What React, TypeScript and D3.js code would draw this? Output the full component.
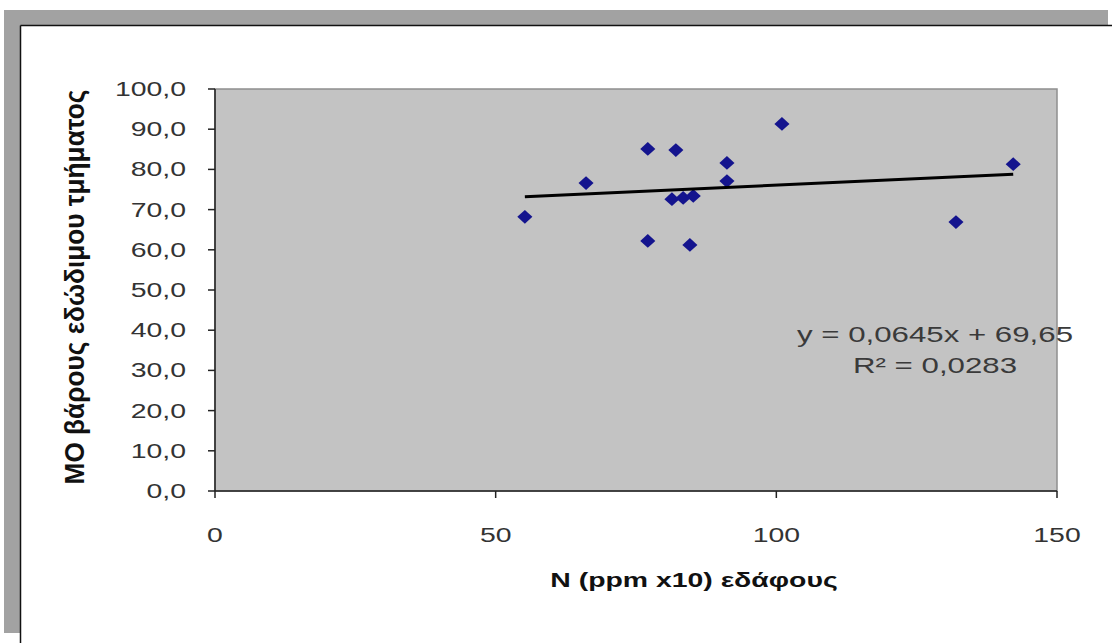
import React from "react";
import * as d3 from "d3";

const nValues = [55.2, 66.1, 77.1, 77.1, 82.1, 81.4, 83.4, 85.2, 84.6, 91.2, 91.2, 101.0, 132.0, 142.2];
const weightValues = [68.2, 76.6, 85.1, 62.2, 84.8, 72.6, 72.9, 73.4, 61.2, 81.6, 77.1, 91.3, 66.9, 81.3];
const xTicks = [0, 50, 100, 150];
const yTicks = [0, 10, 20, 30, 40, 50, 60, 70, 80, 90, 100];
const trendSlope = 0.0645;
const trendIntercept = 69.65;
const equationLines = ["y = 0,0645x + 69,65", "R² = 0,0283"];
const xTitle = "N (ppm x10) εδάφους";
const yTitle = "ΜΟ βάρους εδώδιμου τμήματος";

const W = 1112;
const H = 643;
const plot = { left: 215, right: 1057, top: 89, bottom: 491 };
const font = "'Liberation Sans', Arial, sans-serif";
const STRETCH = 1.42;

function Stretched(props: {
  x: number; y: number; text: string; size: number; anchor: "start" | "middle" | "end";
  weight?: string; fill?: string; along?: number; rotate?: boolean;
}) {
  const { x, y, text, size, anchor, weight, fill, along, rotate } = props;
  const transform = rotate
    ? `translate(${x},${y}) rotate(-90) scale(${along ?? 1},${STRETCH})`
    : `translate(${x},${y}) scale(${STRETCH},1)`;
  return (
    <text
      transform={transform}
      dy="0.35em"
      textAnchor={anchor}
      fontFamily={font}
      fontSize={size}
      fontWeight={weight ?? "normal"}
      fill={fill ?? "#222"}
    >
      {text}
    </text>
  );
}

export default function App() {
  const x = d3.scaleLinear().domain([0, 150]).range([plot.left, plot.right]);
  const y = d3.scaleLinear().domain([0, 100]).range([plot.bottom, plot.top]);
  const fmtY = (v: number) => d3.format(".1f")(v).replace(".", ",");
  const diamond = d3.symbol().type(d3.symbolDiamond2).size(120)();
  const xMin = d3.min(nValues) as number;
  const xMax = d3.max(nValues) as number;
  const trend = d3.line<number>().x((v) => x(v)).y((v) => y(trendSlope * v + trendIntercept))([xMin, xMax]);
  const points = nValues.map((v, i) => ({ n: v, w: weightValues[i] }));

  return (
    <svg width={W} height={H} style={{ position: "absolute", left: 0, top: 0, background: "#fff" }}>
      {/* outer frame */}
      <rect x={4} y={10} width={1104} height={623} fill="#a2a2a2" />
      <rect x={21} y={26} width={W - 21} height={H - 26} fill="#ffffff" />
      <line x1={20.5} y1={25.5} x2={W} y2={25.5} stroke="#111" strokeWidth={1.5} />
      <line x1={20.5} y1={25.5} x2={20.5} y2={H} stroke="#111" strokeWidth={1.5} />

      {/* plot area */}
      <rect x={plot.left} y={plot.top} width={plot.right - plot.left} height={plot.bottom - plot.top} fill="#c3c3c3" stroke="#8f8f8f" strokeWidth={1.5} />

      {/* y axis */}
      <line x1={plot.left} y1={plot.top} x2={plot.left} y2={plot.bottom} stroke="#222" strokeWidth={1.5} />
      {yTicks.map((t) => (
        <g key={"y" + t}>
          <line x1={plot.left - 7} x2={plot.left} y1={y(t)} y2={y(t)} stroke="#222" strokeWidth={1.5} />
          <Stretched x={plot.left - 29} y={y(t)} text={fmtY(t)} size={20} anchor="end" fill="#333" />
        </g>
      ))}

      {/* x axis */}
      <line x1={plot.left} y1={plot.bottom} x2={plot.right} y2={plot.bottom} stroke="#222" strokeWidth={1.5} />
      {xTicks.map((t) => (
        <g key={"x" + t}>
          <line x1={x(t)} x2={x(t)} y1={plot.bottom} y2={plot.bottom + 7} stroke="#222" strokeWidth={1.5} />
          <Stretched x={x(t)} y={535} text={String(t)} size={20} anchor="middle" fill="#333" />
        </g>
      ))}

      {/* points */}
      {points.map((p, i) => (
        <path key={i} d={diamond as string} transform={`translate(${x(p.n)},${y(p.w)}) scale(1.1,1)`} fill="#14148e" />
      ))}

      {/* trend line */}
      <path d={trend as string} stroke="#000" strokeWidth={3} fill="none" />

      {/* equation */}
      {equationLines.map((l, i) => (
        <Stretched key={l} x={935} y={334 + i * 31} text={l} size={22} anchor="middle" fill="#3a3a3a" />
      ))}

      {/* titles */}
      <Stretched x={694} y={580} text={xTitle} size={20} anchor="middle" weight="bold" fill="#111" />
      <Stretched x={75} y={287} text={yTitle} size={19} anchor="middle" weight="bold" fill="#111" along={1.38} rotate />
    </svg>
  );
}
